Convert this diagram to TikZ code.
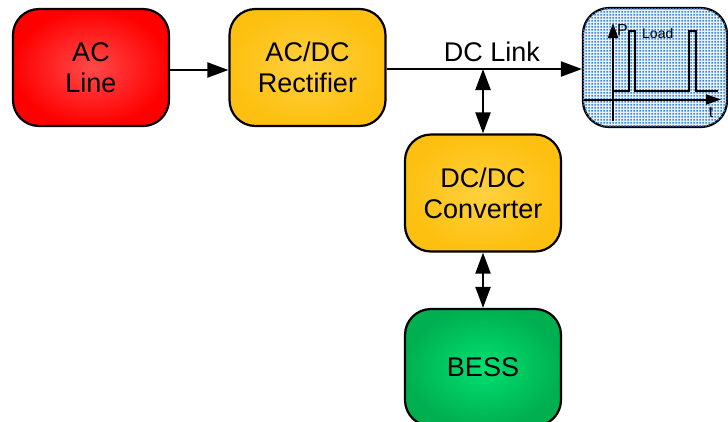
\documentclass[tikz,border=0pt]{standalone}
\usepackage{fontspec}
\setmainfont{Liberation Sans}
\usetikzlibrary{arrows.meta,patterns}
\definecolor{acred}{HTML}{FF0000}
\definecolor{acredin}{HTML}{FF4A4A}
\definecolor{dcor}{HTML}{FDC010}
\definecolor{dcorin}{HTML}{FFD040}
\definecolor{bessg}{HTML}{00B050}
\definecolor{bessgin}{HTML}{00E070}
\definecolor{loadbg}{HTML}{E8F1FB}
\definecolor{loaddot}{HTML}{3A88D8}
\pgfdeclarepatternformonly{bluedots}{\pgfpointorigin}{\pgfpoint{3pt}{3pt}}{\pgfpoint{3pt}{3pt}}{%
  \pgfpathrectangle{\pgfpoint{0.5pt}{0.5pt}}{\pgfpoint{2pt}{2pt}}\pgfusepath{fill}}
\tikzset{
  blockbox/.style={draw=black, line width=2.2pt, rounded corners=26pt,
    minimum width=156pt, minimum height=117pt, align=center,
    font=\fontsize{27}{31}\selectfont, text=black},
  conn/.style={line width=2.2pt, -{Triangle[length=21pt,width=15pt]}},
  dconn/.style={line width=2.2pt, {Triangle[length=21pt,width=15pt]}-{Triangle[length=21pt,width=15pt]}},
  axisarrow/.style={line width=2pt, -{Triangle[length=15pt,width=10pt]}}
}
\begin{document}
\begin{tikzpicture}[x=1pt,y=-1pt]
\useasboundingbox (0,0) rectangle (728,421);
\node[blockbox, inner color=acredin, outer color=acred] (ac) at (91,67.5) {AC\\Line};
\node[blockbox, inner color=dcorin, outer color=dcor] (rect) at (307.5,67.5) {AC/DC\\Rectifier};
\node[blockbox, inner color=dcorin, outer color=dcor] (dcdc) at (483,193) {DC/DC\\Converter};
\node[blockbox, inner color=bessgin, outer color=bessg] (bess) at (483,367.5) {BESS};
\node[draw=black, line width=2.2pt, rounded corners=26pt, minimum width=144pt, minimum height=119pt,
  fill=loadbg, postaction={pattern=bluedots, pattern color=loaddot}] (load) at (655,67.5) {};
\draw[conn] (ac.east |- 0,70) coordinate (a1) -- (rect.west |- a1);
\draw[conn] (rect.east |- 0,69) coordinate (r1) -- (load.west |- r1);
\node[font=\fontsize{27}{30}\selectfont, anchor=base] (dclink) at (492,61) {DC Link};
\coordinate (j) at (dcdc.north |- r1);
\draw[dconn] (j) -- (dcdc.north);
\draw[dconn] (dcdc.south) -- (bess.north);
% load graph
\draw[axisarrow] (613,121) -- (613,23);
\draw[axisarrow] (584,99.5) -- (721,99.5);
\draw[line width=2pt] (613,91) -- (629,91) -- (629,31) -- (635,31) -- (635,91) -- (689,91) -- (689,31) -- (696,31) -- (696,91) -- (718,91);
\node[font=\fontsize{16}{16}\selectfont, anchor=base west, inner sep=0pt] (pl) at (617,35) {P};
\node[font=\fontsize{14}{14}\selectfont, anchor=base west, inner sep=0pt] (ll) at (642,38) {Load};
\node[font=\fontsize{16}{16}\selectfont, anchor=base, inner sep=0pt] (tl) at (711,117) {t};
\end{tikzpicture}
\end{document}
